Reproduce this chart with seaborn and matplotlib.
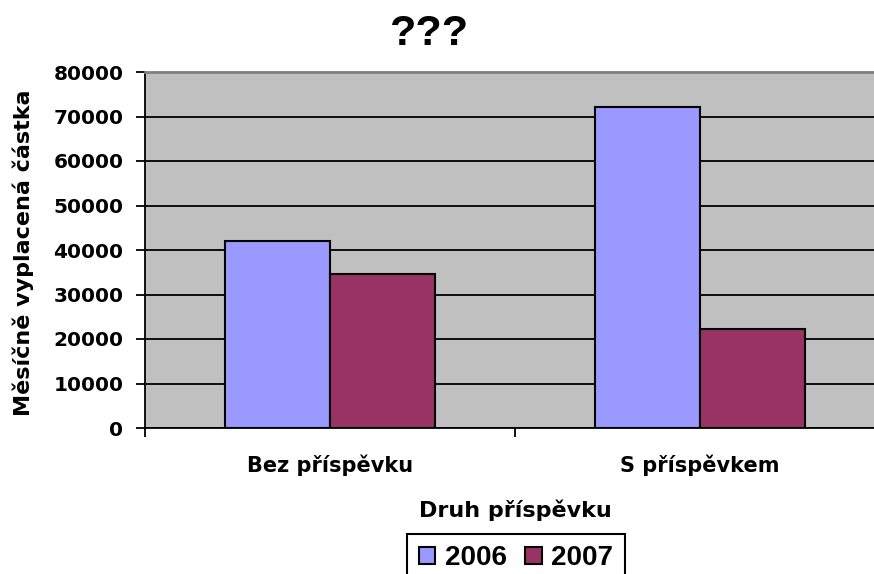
import pandas as pd
import matplotlib
matplotlib.use("Agg")
import matplotlib.pyplot as plt
import seaborn as sns

# Data
categories = ["Bez příspěvku", "S příspěvkem"]
years = ["2006", "2007"]
values_2006 = [42100, 72200]
values_2007 = [34500, 22300]
y_ticks = [0, 10000, 20000, 30000, 40000, 50000, 60000, 70000, 80000]
colors = ["#9999FF", "#993366"]

df = pd.DataFrame({
    "Druh": categories * 2,
    "Rok": [years[0]] * 2 + [years[1]] * 2,
    "Castka": values_2006 + values_2007,
})

sns.set_style("white", {"ytick.left": True, "xtick.bottom": True})
plt.rcParams["font.family"] = ["DejaVu Sans"]
plt.rcParams["text.color"] = "black"
plt.rcParams["axes.labelcolor"] = "black"
plt.rcParams["xtick.color"] = "black"
plt.rcParams["ytick.color"] = "black"

fig = plt.figure(figsize=(8.74, 5.74), dpi=100)
# plot area runs past the right edge of the picture, like the original
ax = fig.add_axes([145 / 874, 1 - 428 / 574, 740 / 874, 356 / 574])

sns.barplot(
    data=df, x="Druh", y="Castka", hue="Rok",
    palette=colors, saturation=1, width=0.57, gap=0,
    edgecolor="black", linewidth=1.5, ax=ax,
)

ax.set_facecolor("#C0C0C0")
ax.set_xlim(-0.5, 1.5)
ax.set_ylim(0, 80000)
ax.set_yticks(y_ticks)
ax.set_yticklabels([str(v) for v in y_ticks], fontsize=14.5, fontweight="bold")
ax.yaxis.grid(True, color="black", linewidth=1.3)
ax.set_axisbelow(True)

# ticks between categories, labels in the middle
ax.set_xticks([-0.5, 0.5, 1.5])
ax.set_xticklabels([])
ax.set_xticks([0, 1], minor=True)
ax.set_xticklabels(categories, minor=True, fontsize=15, fontweight="bold")
ax.tick_params(axis="x", which="major", bottom=True, length=6.5, width=1.3,
               color="black", direction="out")
ax.tick_params(axis="x", which="minor", bottom=True, length=0, pad=19)
ax.tick_params(axis="y", which="major", left=True, length=6.5, width=1.3,
               color="black", direction="out", pad=9)

for side in ["left", "bottom"]:
    ax.spines[side].set_color("black")
    ax.spines[side].set_linewidth(1.3)
ax.spines["top"].set_color("#808080")
ax.spines["top"].set_linewidth(2)
ax.spines["right"].set_visible(False)

ax.set_xlabel("Druh příspěvku", fontsize=16, fontweight="bold", va="baseline")
ax.xaxis.set_label_coords(0.5, -0.25)
ax.set_ylabel("Měsíčně vyplacená částka", fontsize=16, fontweight="bold", va="center")
ax.yaxis.set_label_coords((23 - 145) / 740, 0.492)

fig.text(430 / 874, 1 - 45 / 574, "???", ha="center", va="baseline",
         fontsize=31, fontweight="bold", family="Liberation Sans")

# legend at the bottom, partly cut off by the picture edge
handles, labels = ax.get_legend_handles_labels()
ax.get_legend().remove()
leg = fig.legend(
    handles, labels, loc="upper center", ncol=2,
    bbox_to_anchor=(516 / 874, 1 - 534 / 574),
    prop={"family": "Liberation Sans", "weight": "bold", "size": 20},
    handlelength=0.6, handleheight=0.6, handletextpad=0.35,
    columnspacing=0.65, borderpad=0.4, borderaxespad=0,
    fancybox=False, framealpha=1, edgecolor="black",
)
leg.get_frame().set_linewidth(1.5)

plt.savefig("out.png", dpi=100)
